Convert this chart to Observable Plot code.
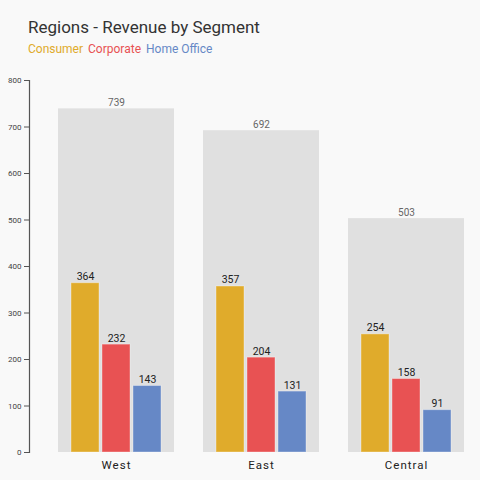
<!DOCTYPE html>
<html>
<head>
<meta charset="utf-8">
<script src="https://cdn.jsdelivr.net/npm/d3@7"></script>
<script src="https://cdn.jsdelivr.net/npm/@observablehq/plot@0.6"></script>
<style>
  body { margin: 0; background: #f9f9f9; font-family: Roboto, "Noto Sans", sans-serif; }
  #head { height: 60px; box-sizing: border-box; padding: 17px 0 0 28px; }
  #title { font-size: 17px; line-height: 21px; color: #333; }
  #legend { margin-top: 3px; font-size: 12px; line-height: 16px; }
  #legend span { margin-right: 5px; }
  #chart svg [aria-label="fx-axis tick label"] { letter-spacing: 1px; }
</style>
</head>
<body>
<div id="head">
  <div id="title">Regions - Revenue by Segment</div>
  <div id="legend"></div>
</div>
<div id="chart"></div>
<script>
const regions = ["West", "East", "Central"];
const segments = ["Consumer", "Corporate", "Home Office"];
const consumer = [364, 357, 254];
const corporate = [232, 204, 158];
const homeOffice = [143, 131, 91];
const colors = ["#e0ab2b", "#e85253", "#6688c6"];
const yTicks = [0, 100, 200, 300, 400, 500, 600, 700, 800];

const series = [consumer, corporate, homeOffice];
const rows = regions.flatMap((region, i) =>
  segments.map((segment, j) => ({ region, segment, value: series[j][i] })));

document.getElementById("legend").append(...segments.map((s, j) => {
  const span = document.createElement("span");
  span.textContent = s;
  span.style.color = colors[j];
  return span;
}));

const plot = Plot.plot({
  width: 480,
  height: 420,
  marginTop: 20,
  marginBottom: 28,
  marginLeft: 50,
  marginRight: 8,
  style: { background: "transparent", fontFamily: "Roboto, sans-serif" },
  fx: { domain: regions, paddingInner: 0.2, paddingOuter: 0.055, axis: null, label: null },
  x: { domain: segments, paddingInner: 0.1, paddingOuter: 0.38, axis: null },
  y: { domain: [0, 800], axis: null },
  color: { domain: segments, range: colors },
  marks: [
    Plot.barY(rows, Plot.groupZ({ y: "sum" }, { fx: "region", y: "value", fill: "#e0e0e0" })),
    Plot.text(rows, Plot.groupZ({ y: "sum", text: "sum" }, {
      fx: "region", y: "value", text: "value", lineAnchor: "bottom", dy: -3,
      fill: "#666", fontSize: 10
    })),
    Plot.barY(rows, {
      fx: "region", x: "segment", y: "value", fill: "segment",
      stroke: "#fff", strokeOpacity: 0.35
    }),
    Plot.text(rows, {
      fx: "region", x: "segment", y: "value", text: "value",
      lineAnchor: "bottom", dy: -3, fill: "#222", fontSize: 10.5
    }),
    Plot.axisFx({ anchor: "bottom", tickSize: 0, tickPadding: 8, label: null, fontSize: 11.5, fill: "#222" }),
    Plot.axisY({ ticks: yTicks, tickSize: 5, tickPadding: 3, dx: -29, label: null, fontSize: 8, fill: "#444", stroke: "#555" }),
    Plot.frame({ anchor: "left", facetAnchor: "left", dx: -29, stroke: "#555", strokeWidth: 1.2 })
  ]
});
document.getElementById("chart").append(plot);
</script>
</body>
</html>
